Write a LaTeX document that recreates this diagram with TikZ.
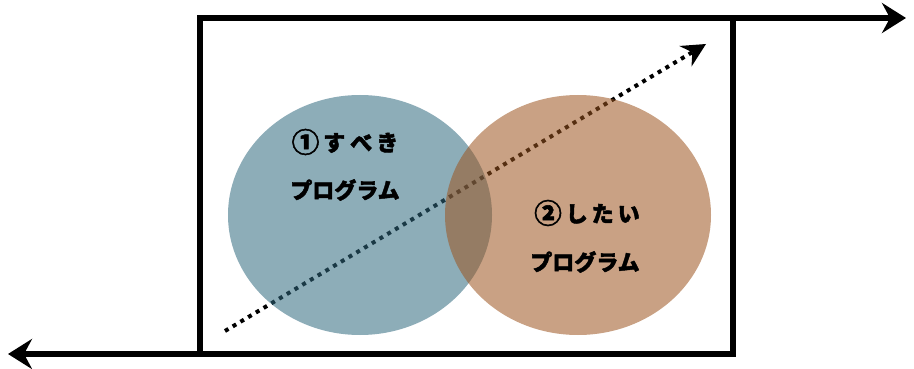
\documentclass[tikz,border=0pt]{standalone}
\usepackage{fontspec}
\newfontfamily\jp[BoldFont={Noto Sans CJK JP Black},BoldFeatures={FakeBold=2}]{Noto Sans CJK JP}
\usetikzlibrary{arrows.meta,shapes.geometric}
\definecolor{bluec}{RGB}{48,105,126}
\definecolor{orangec}{RGB}{156,84,31}
\newcommand{\bignum}[1]{\raisebox{-1.5pt}{\scalebox{1.25}{#1}}}
\tikzset{
  frame/.style={line width=5.5pt},
  axis/.style={line width=5.5pt,-{Stealth[length=24pt,width=30pt,inset=8pt]}},
  diag/.style={line width=4pt,dash pattern=on 4pt off 5pt,-{Stealth[length=24pt,width=24pt,inset=8pt,line width=0pt]}},
  setA/.style={ellipse,draw=none,fill=bluec,fill opacity=0.55,inner sep=0pt,minimum width=264pt,minimum height=240pt},
  setB/.style={ellipse,draw=none,fill=orangec,fill opacity=0.55,inner sep=0pt,minimum width=266pt,minimum height=240pt},
  lbl/.style={font=\jp\bfseries\fontsize{22}{22}\selectfont,text=black,align=center}
}
\begin{document}
\begin{tikzpicture}[x=1pt,y=-1pt]
\useasboundingbox (0,0) rectangle (914,369);
\coordinate (tl) at (200,18);
\coordinate (tr) at (733,18);
\coordinate (br) at (733,354);
\coordinate (bl) at (200,354);
\coordinate (rtip) at (906,18);
\coordinate (ltip) at (8,354);
\coordinate (ds) at (225,331);
\coordinate (de) at (706,44);
\draw[frame] (tl) rectangle (br);
\draw[axis] (tr) -- (rtip);
\draw[axis] (bl) -- (ltip);
\draw[diag] (ds) -- (de);
\node[setA] (A) at (360,215) {};
\node[setB] (B) at (578,215) {};
\node[lbl] (a1) at (345,142) {\bignum{①}\hspace{4pt}す\hspace{5pt}べ\hspace{4pt}き};
\node[lbl] (a2) at (345,190) {プログラム};
\node[lbl] (b1) at (587,213) {\bignum{②}\hspace{4pt}し\hspace{4pt}た\hspace{4pt}い};
\node[lbl] (b2) at (585,262) {プログラム};
\end{tikzpicture}
\end{document}
